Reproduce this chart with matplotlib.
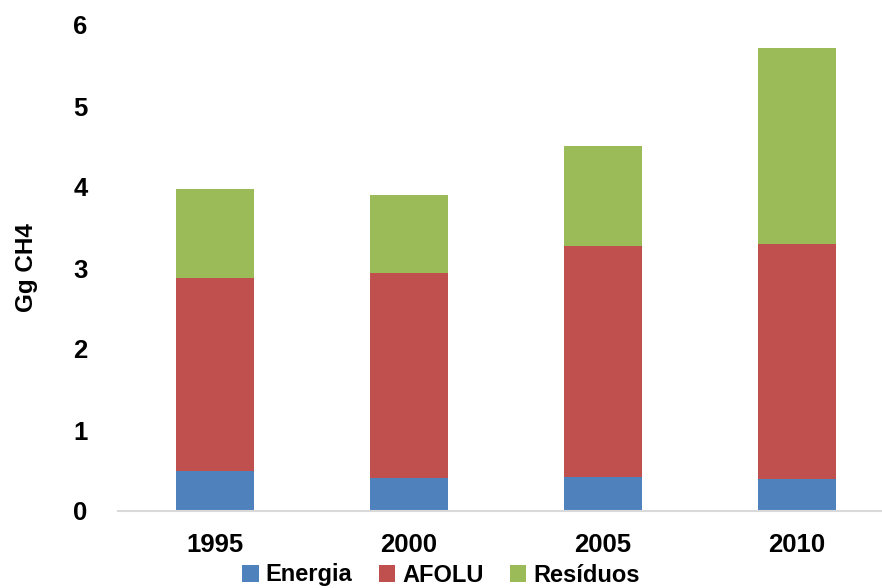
import numpy as np
from matplotlib import pyplot as plt

plt.rcParams['font.family'] = ['Liberation Sans', 'DejaVu Sans']
plt.rcParams['font.weight'] = 'bold'

anos = ['1995', '2000', '2005', '2010']
energia = [0.49, 0.41, 0.42, 0.40]
afolu = [2.39, 2.53, 2.85, 2.90]
residuos = [1.10, 0.96, 1.24, 2.42]

cores = ['#4F81BD', '#C0504D', '#9BBB59']

fig = plt.figure(figsize=(8.82, 5.88), dpi=100)
ax = fig.add_axes([118 / 882, 1 - 511 / 588, (882 - 118) / 882, (511 - 25) / 588])

x = np.arange(len(anos))
base = np.zeros(len(anos))
for serie, nome, cor in zip([energia, afolu, residuos], ['Energia', 'AFOLU', 'Resíduos'], cores):
    ax.bar(x, serie, 0.4, bottom=base, color=cor, label=nome)
    base = base + np.array(serie)

ax.set_xlim(-0.5, (882 - 118) / 194 - 0.5)
ax.set_ylim(0, 6)
ax.set_xticks(x)
ax.set_xticklabels(anos)
ax.set_yticks(range(7))
ax.tick_params(axis='both', length=0, labelsize=18.5)
ax.tick_params(axis='y', pad=22)
ax.tick_params(axis='x', pad=16)
for s in ['top', 'right', 'left']:
    ax.spines[s].set_visible(False)
ax.spines['bottom'].set_color('#d9d9d9')
ax.spines['bottom'].set_linewidth(1.5)
ax.set_ylabel('Gg CH4', fontsize=17.5, fontweight='bold', labelpad=25)

fig.legend(loc='center', bbox_to_anchor=(0.5, 1 - 575 / 588), ncol=3, frameon=False,
           borderpad=0, fontsize=17, handlelength=0.7, handleheight=0.7, handletextpad=0.3,
           columnspacing=1.1)

plt.savefig('out.png', dpi=100)
